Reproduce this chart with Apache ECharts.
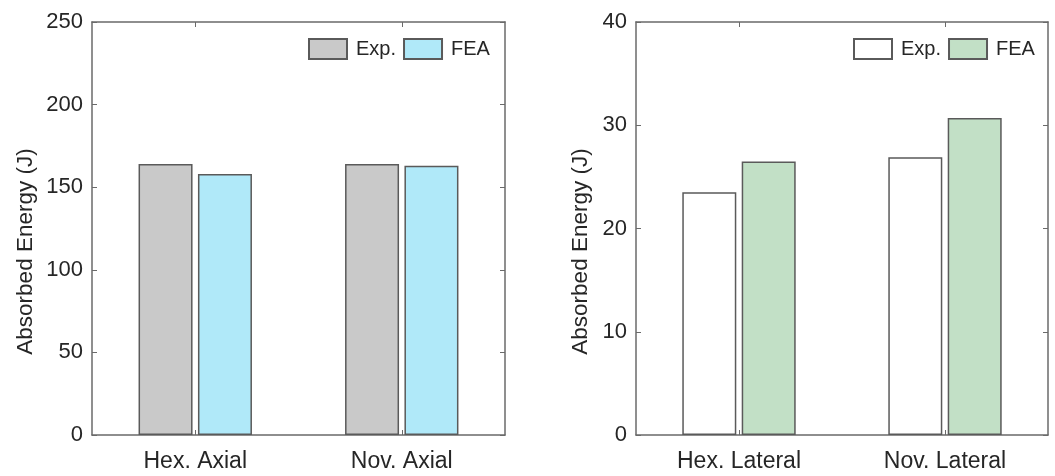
<!DOCTYPE html>
<html>
<head>
<meta charset="utf-8">
<script src="https://cdn.jsdelivr.net/npm/echarts@6/dist/echarts.min.js"></script>
<style>
  html, body { margin: 0; padding: 0; background: #fff; }
  #chart { width: 1055px; height: 476px; }
</style>
</head>
<body>
<div id="chart"></div>
<script>
// data
const axialCategories = ["Hex. Axial", "Nov. Axial"];
const axialExp = [164, 164];
const axialFEA = [158, 163];
const axialTicks = [0, 50, 100, 150, 200, 250];

const lateralCategories = ["Hex. Lateral", "Nov. Lateral"];
const lateralExp = [23.5, 26.9];
const lateralFEA = [26.5, 30.7];
const lateralTicks = [0, 10, 20, 30, 40];

const FONT = "Liberation Sans, Arial, sans-serif";
const AXIS_COLOR = "#6a6a6a";
const TEXT_COLOR = "#262626";
const EDGE = "#5a5a5a";

const chart = echarts.init(document.getElementById("chart"));

function catAxis(grid, data, top) {
  return {
    type: "category",
    gridIndex: grid,
    data: data,
    position: top ? "top" : "bottom",
    axisLine: { show: true, onZero: false, lineStyle: { color: AXIS_COLOR, width: 1.5 } },
    axisTick: { show: true, inside: true, alignWithLabel: true, length: 5, lineStyle: { color: AXIS_COLOR } },
    axisLabel: { show: !top, color: TEXT_COLOR, fontSize: 23, fontFamily: FONT, margin: 15 },
    splitLine: { show: false },
  };
}

function valAxis(grid, ticks, right) {
  const step = ticks[1] - ticks[0];
  return {
    type: "value",
    gridIndex: grid,
    position: right ? "right" : "left",
    min: ticks[0],
    max: ticks[ticks.length - 1],
    interval: step,
    name: right ? "" : "Absorbed Energy (J)",
    nameLocation: "middle",
    nameGap: right ? 0 : (ticks[ticks.length - 1] >= 100 ? 55 : 44),
    nameTextStyle: { color: TEXT_COLOR, fontSize: 22.5, fontFamily: FONT, padding: [0, 46, 0, 0] },
    axisLine: { show: true, onZero: false, lineStyle: { color: AXIS_COLOR, width: 1.5 } },
    axisTick: { show: true, inside: true, length: 5, lineStyle: { color: AXIS_COLOR } },
    axisLabel: { show: !right, color: TEXT_COLOR, fontSize: 22, fontFamily: FONT, margin: 9 },
    splitLine: { show: false },
  };
}

function bar(name, xi, yi, data, color) {
  return {
    name: name,
    type: "bar",
    xAxisIndex: xi,
    yAxisIndex: yi,
    data: data,
    barWidth: 54,
    barGap: "10%",
    itemStyle: { color: color, borderColor: EDGE, borderWidth: 1.5 },
    emphasis: { disabled: true },
  };
}

function legend(left, names) {
  return {
    left: left, top: 38, padding: 0,
    data: names,
    formatter: (n) => n.split(" ")[0],
    icon: "rect", itemWidth: 38, itemHeight: 20, itemGap: 7,
    textStyle: { color: TEXT_COLOR, fontSize: 20, fontFamily: FONT, padding: [0, 0, 0, 4] },
    selectedMode: false,
  };
}

chart.setOption({
  animation: false,
  backgroundColor: "#fff",
  grid: [
    { left: 92, right: 550, top: 22, bottom: 41 },
    { left: 636, right: 7, top: 22, bottom: 41 },
  ],
  legend: [
    legend(308, ["Exp. axial", "FEA axial"]),
    legend(853, ["Exp. lateral", "FEA lateral"]),
  ],
  xAxis: [
    catAxis(0, axialCategories, false),
    catAxis(0, axialCategories, true),
    catAxis(1, lateralCategories, false),
    catAxis(1, lateralCategories, true),
  ],
  yAxis: [
    valAxis(0, axialTicks, false),
    valAxis(0, axialTicks, true),
    valAxis(1, lateralTicks, false),
    valAxis(1, lateralTicks, true),
  ],
  series: [
    bar("Exp. axial", 0, 0, axialExp, "#c9c9c9"),
    bar("FEA axial", 0, 0, axialFEA, "#b0e9f9"),
    bar("Exp. lateral", 2, 2, lateralExp, "#ffffff"),
    bar("FEA lateral", 2, 2, lateralFEA, "#c2e0c6"),
  ],
});
</script>
</body>
</html>
